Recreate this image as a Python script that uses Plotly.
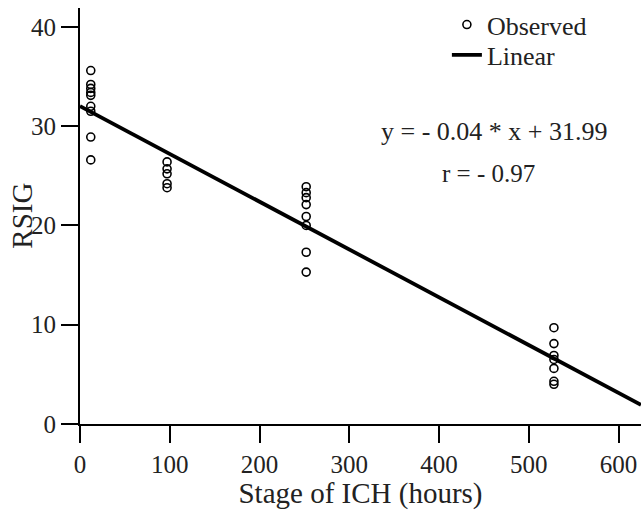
import numpy as np
import plotly.graph_objects as go

# Observed data (stage of ICH in hours, RSIG)
stage_hours = [12]*9 + [97]*5 + [252]*8 + [528]*7
rsig = [35.6, 34.2, 33.8, 33.4, 33.1, 32.0, 31.5, 28.9, 26.6,
        26.4, 25.7, 25.2, 24.2, 23.8,
        23.9, 23.3, 22.8, 22.1, 20.9, 20.0, 17.3, 15.3,
        9.7, 8.1, 6.9, 6.5, 5.6, 4.3, 4.0]

x_ticks = [0, 100, 200, 300, 400, 500, 600]
y_ticks = [0, 10, 20, 30, 40]
x_range = [0, 625]
y_range = [0, 41.9]

x_title = "Stage of ICH (hours)"
y_title = "RSIG"
equation_text = "y = - 0.04 * x + 31.99"
r_text = "r = - 0.97"

slope, intercept = np.polyfit(stage_hours, rsig, 1)
line_x = np.array(x_range, dtype=float)
line_y = slope * line_x + intercept

FONT = "Liberation Serif"
TXT = "#222"

fig = go.Figure()
fig.add_trace(go.Scatter(
    x=stage_hours, y=rsig, mode="markers", name="Observed", legend="legend",
    marker=dict(symbol="circle-open", size=8, color="black", line=dict(width=1.6, color="black")),
    cliponaxis=False,
))
fig.add_trace(go.Scatter(
    x=line_x, y=line_y, mode="lines", name="Linear", legend="legend2",
    line=dict(color="black", width=3.8),
))

legend_common = dict(xanchor="left", yanchor="middle", bgcolor="rgba(0,0,0,0)",
                     font=dict(size=26, family=FONT, color=TXT), itemwidth=30)

fig.update_layout(
    width=641, height=510,
    margin=dict(l=80, r=0, t=8, b=86),
    paper_bgcolor="white", plot_bgcolor="white",
    font=dict(family=FONT, size=25, color=TXT),
    showlegend=True,
    legend=dict(x=0.654, y=0.96, **legend_common),
    legend2=dict(x=0.654, y=0.887, **legend_common),
    xaxis=dict(range=x_range, tickvals=x_ticks, showline=True, linecolor="black", linewidth=2,
               ticks="outside", ticklen=17, tickwidth=2, tickcolor="black",
               showgrid=False, zeroline=False,
               title=dict(text=x_title, font=dict(size=29, family=FONT, color=TXT), standoff=2),
               tickfont=dict(size=25, family=FONT, color=TXT)),
    yaxis=dict(range=y_range, tickvals=y_ticks, showline=True, linecolor="black", linewidth=2,
               ticks="outside", ticklen=17, tickwidth=2, tickcolor="black",
               showgrid=False, zeroline=False,
               tickfont=dict(size=25, family=FONT, color=TXT)),
    annotations=[
        dict(text=y_title, x=-0.104, y=0.5, xref="paper", yref="paper",
             xanchor="center", yanchor="middle", textangle=-90,
             showarrow=False, font=dict(size=29, family=FONT, color=TXT)),
        dict(text=equation_text, x=0.738, y=0.702, xref="paper", yref="paper",
             xanchor="center", yanchor="middle",
             showarrow=False, font=dict(size=26, family=FONT, color=TXT)),
        dict(text=r_text, x=0.729, y=0.603, xref="paper", yref="paper",
             xanchor="center", yanchor="middle",
             showarrow=False, font=dict(size=25, family=FONT, color=TXT)),
    ],
)

fig.write_html("out.html", config={"displayModeBar": False},
               post_script="document.body.style.margin='0';document.body.style.overflow='hidden';")
